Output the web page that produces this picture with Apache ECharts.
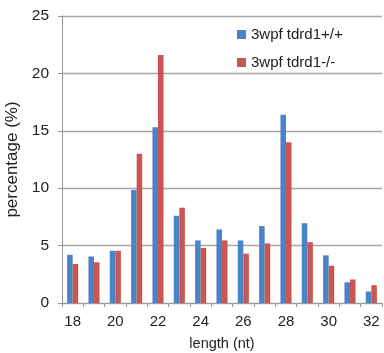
<!DOCTYPE html>
<html><head><meta charset="utf-8">
<script src="https://cdn.jsdelivr.net/npm/echarts@6/dist/echarts.min.js"></script>
<style>html,body{margin:0;padding:0;background:#fff}#c{width:384px;height:353px}</style>
</head><body><div id="c"></div>
<script>
const categories = ['18','19','20','21','22','23','24','25','26','27','28','29','30','31','32'];
const wildType = [4.2, 4.05, 4.55, 9.85, 15.3, 7.6, 5.45, 6.4, 5.45, 6.7, 16.4, 6.95, 4.15, 1.8, 1.0];
const mutant   = [3.4, 3.55, 4.55, 13.0, 21.6, 8.3, 4.8, 5.45, 4.3, 5.2, 14.0, 5.3, 3.25, 2.05, 1.55];
const seriesNames = ['3wpf tdrd1+/+', '3wpf tdrd1-/-'];
const yTicks = [0, 5, 10, 15, 20, 25];

const font = 'Liberation Sans, Arial, sans-serif';
const chart = echarts.init(document.getElementById('c'), null, {renderer: 'canvas'});
chart.setOption({
  animation: false,
  backgroundColor: '#fff',
  grid: {left: 62, right: 2, top: 16, bottom: 50, containLabel: false, outerBoundsMode: 'none'},
  legend: {
    orient: 'vertical', left: 232, top: 22, itemWidth: 9, itemHeight: 9, itemGap: 13,
    icon: 'rect',
    textStyle: {fontFamily: font, fontSize: 15, color: '#222'},
    data: seriesNames
  },
  xAxis: {
    type: 'category', data: categories,
    name: 'length (nt)', nameLocation: 'middle', nameGap: 33,
    nameTextStyle: {fontFamily: font, fontSize: 14.5, color: '#222'},
    axisLine: {lineStyle: {color: '#999'}},
    axisTick: {show: true, interval: 0, alignWithLabel: false, length: 4, lineStyle: {color: '#999'}},
    axisLabel: {interval: 1, fontFamily: font, fontSize: 15, color: '#222', margin: 11}
  },
  yAxis: {
    type: 'value', min: yTicks[0], max: yTicks[yTicks.length-1], interval: 5,
    name: 'percentage (%)', nameLocation: 'middle', nameGap: 34,
    nameTextStyle: {fontFamily: font, fontSize: 17, color: '#222'},
    axisLine: {show: true, lineStyle: {color: '#999'}},
    axisTick: {show: true, length: 4, lineStyle: {color: '#999'}},
    axisLabel: {fontFamily: font, fontSize: 15.5, color: '#222', margin: 13},
    splitLine: {lineStyle: {color: '#a6a6a6', width: 1.3}}
  },
  series: [
    {name: seriesNames[0], type: 'bar', data: wildType, itemStyle: {color: '#4A84C8'}, barGap: '0%', barCategoryGap: '48%'},
    {name: seriesNames[1], type: 'bar', data: mutant, itemStyle: {color: '#CB5651'}, barGap: '0%', barCategoryGap: '48%'}
  ]
});
</script></body></html>
